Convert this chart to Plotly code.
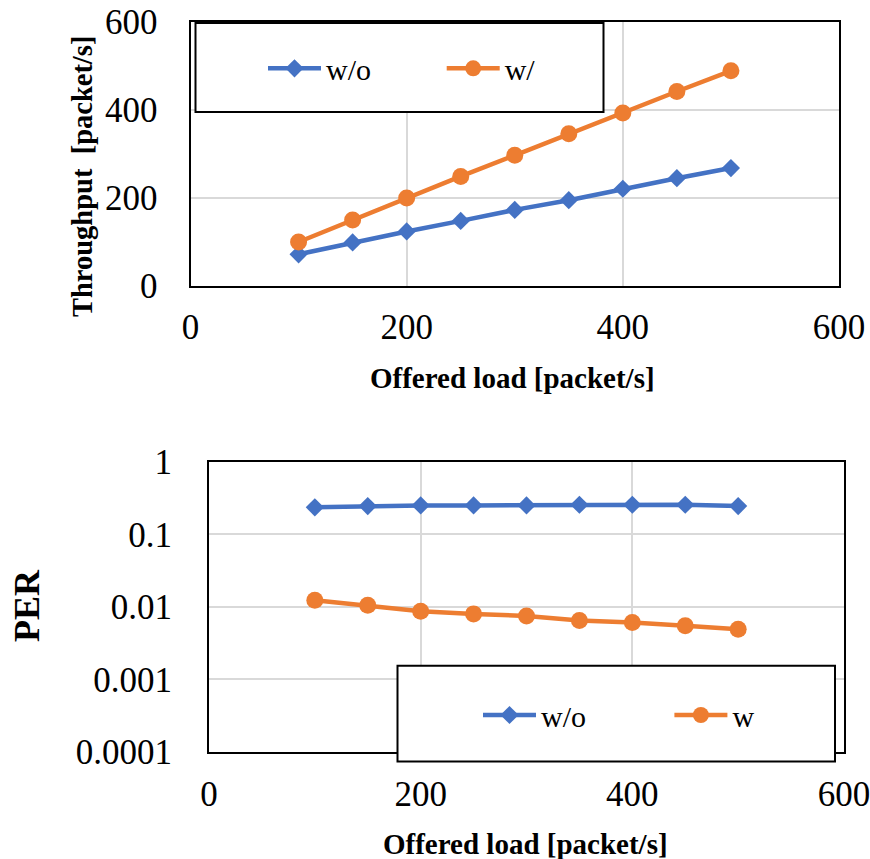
import plotly.graph_objects as go

# ---------------- data ----------------
offered_load = [100, 150, 200, 250, 300, 350, 400, 450, 500]
throughput_wo = [72, 99, 124, 148, 173, 195, 221, 245, 268]
throughput_w = [100, 150, 200, 249, 297, 346, 393, 442, 489]
per_wo = [0.235, 0.245, 0.25, 0.25, 0.25, 0.255, 0.255, 0.255, 0.245]
per_w = [0.0123, 0.0105, 0.0087, 0.0080, 0.0075, 0.0065, 0.0061, 0.0055, 0.0049]
per_tickvals = [1, 0.1, 0.01, 0.001, 0.0001]
per_ticktext = ["1", "0.1", "0.01", "0.001", "0.0001"]

W, H = 870, 859
BLUE = "#4472C4"
ORANGE = "#ED7D31"
GRID = "#D9D9D9"
FONT = "Liberation Serif, Times New Roman, serif"

def px_x(v):
    return v / W

def px_y(v):
    return 1 - v / H

fig = go.Figure()

line_w = 4.5
fig.add_trace(go.Scatter(x=offered_load, y=throughput_wo, name="w/o", mode="lines+markers",
                         line=dict(color=BLUE, width=line_w),
                         marker=dict(symbol="diamond", size=14, color=BLUE),
                         xaxis="x", yaxis="y", legend="legend"))
fig.add_trace(go.Scatter(x=offered_load, y=throughput_w, name="w/", mode="lines+markers",
                         line=dict(color=ORANGE, width=line_w),
                         marker=dict(symbol="circle", size=17, color=ORANGE),
                         xaxis="x", yaxis="y", legend="legend"))
fig.add_trace(go.Scatter(x=offered_load, y=per_wo, name="w/o", mode="lines+markers",
                         line=dict(color=BLUE, width=line_w),
                         marker=dict(symbol="diamond", size=14, color=BLUE),
                         xaxis="x2", yaxis="y2", legend="legend2"))
fig.add_trace(go.Scatter(x=offered_load, y=per_w, name="w", mode="lines+markers",
                         line=dict(color=ORANGE, width=line_w),
                         marker=dict(symbol="circle", size=17, color=ORANGE),
                         xaxis="x2", yaxis="y2", legend="legend2"))

axis_common = dict(showline=True, linecolor="black", linewidth=2, mirror=True,
                   showgrid=True, gridcolor=GRID, gridwidth=2, zeroline=False,
                   ticks="", ticklabeloverflow="allow",
                   tickfont=dict(family=FONT, size=35, color="black"))

fig.update_layout(
    width=W, height=H,
    margin=dict(l=0, r=0, t=0, b=0, autoexpand=False),
    paper_bgcolor="white", plot_bgcolor="white",
    font=dict(family=FONT, color="black"),
    xaxis=dict(domain=[px_x(190.5), px_x(839)], range=[0, 600], dtick=200,
               anchor="y", ticklabelstandoff=9, **axis_common),
    yaxis=dict(domain=[px_y(286), px_y(22)], range=[0, 600], dtick=200,
               anchor="x", ticklabelstandoff=24, **axis_common),
    xaxis2=dict(domain=[px_x(209), px_x(844)], range=[0, 600], dtick=200,
                anchor="y2", ticklabelstandoff=10, **axis_common),
    yaxis2=dict(domain=[px_y(752), px_y(461.7)], type="log", range=[-4, 0],
                tickvals=per_tickvals, ticktext=per_ticktext,
                anchor="x2", ticklabelstandoff=28, **axis_common),
    legend=dict(orientation="h", x=px_x(263), xanchor="left", y=px_y(68.3), yanchor="middle",
                bgcolor="rgba(0,0,0,0)", borderwidth=0, itemwidth=53,
                entrywidth=110.7, entrywidthmode="pixels",
                font=dict(family=FONT, size=30, color="black")),
    legend2=dict(orientation="h", x=px_x(478), xanchor="left", y=px_y(715), yanchor="middle",
                 bgcolor="rgba(0,0,0,0)", borderwidth=0, itemwidth=53,
                 entrywidth=123.4, entrywidthmode="pixels",
                 font=dict(family=FONT, size=30, color="black")),
    shapes=[
        dict(type="rect", xref="paper", yref="paper", layer="above",
             x0=px_x(195.5), x1=px_x(603.5), y0=px_y(112), y1=px_y(23),
             line=dict(color="black", width=2), fillcolor="white"),
        dict(type="rect", xref="paper", yref="paper", layer="above",
             x0=px_x(397.5), x1=px_x(835), y0=px_y(761.5), y1=px_y(665.7),
             line=dict(color="black", width=2), fillcolor="white"),
    ],
    annotations=[
        dict(text="<b>Offered load [packet/s]</b>", xref="paper", yref="paper",
             x=px_x(512), y=px_y(378), xanchor="center", yanchor="middle", showarrow=False,
             font=dict(family=FONT, size=29, color="black")),
        dict(text="<b>Throughput  [packet/s]</b>", xref="paper", yref="paper",
             x=px_x(82), y=px_y(177), xanchor="center", yanchor="middle", showarrow=False,
             textangle=-90, font=dict(family=FONT, size=28.5, color="black")),
        dict(text="<b>Offered load [packet/s]</b>", xref="paper", yref="paper",
             x=px_x(525), y=px_y(844), xanchor="center", yanchor="middle", showarrow=False,
             font=dict(family=FONT, size=29, color="black")),
        dict(text="<b>PER</b>", xref="paper", yref="paper",
             x=px_x(27), y=px_y(606), xanchor="center", yanchor="middle", showarrow=False,
             textangle=-90, font=dict(family=FONT, size=36, color="black")),
    ],
)

# remove the default page margin so the figure fills the window exactly
page_css = ("document.body.style.margin='0';"
            "document.documentElement.style.overflow='hidden';"
            "document.body.style.overflow='hidden';")

fig.write_html("out.html", post_script=page_css, config={"displayModeBar": False})
